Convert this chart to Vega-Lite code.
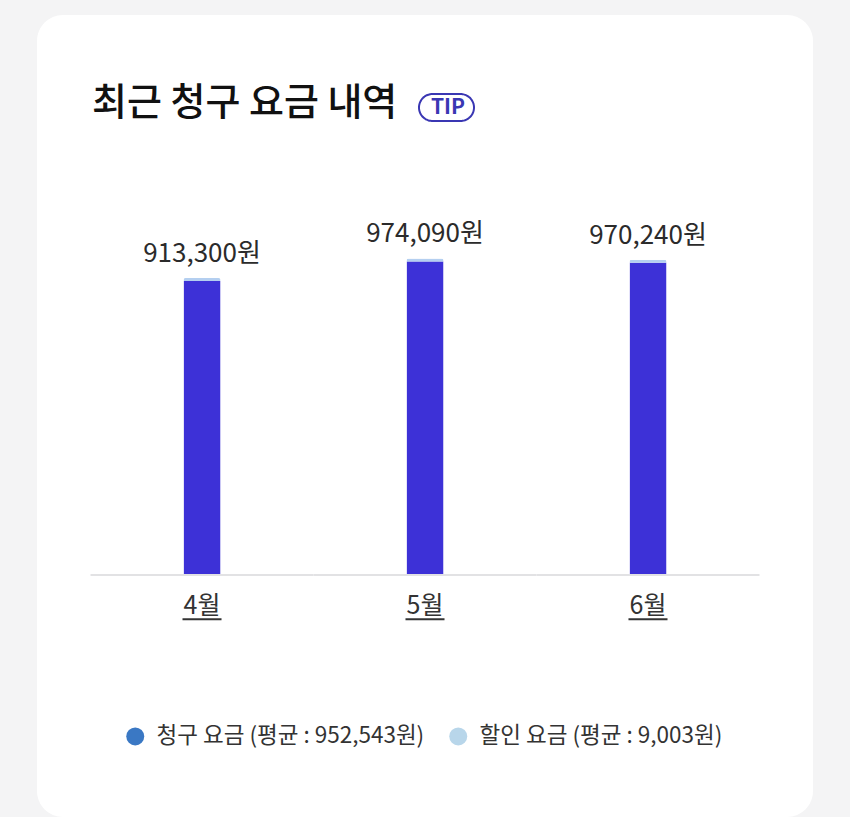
{
  "$schema": "https://vega.github.io/schema/vega-lite/v6.json",
  "autosize": {"type": "none"},
  "width": 776,
  "height": 802,
  "padding": {"left": 37, "top": 15, "right": 37, "bottom": 0},
  "background": "#f4f4f5",
  "title": {
    "text": "최근 청구 요금 내역",
    "orient": "top",
    "anchor": "start",
    "frame": "group",
    "dx": 55,
    "offset": -146,
    "baseline": "bottom",
    "font": "Noto Sans CJK KR",
    "fontSize": 38,
    "fontWeight": 500,
    "color": "#111111"
  },
  "data": {
    "values": [
      {"month": "4월", "type": "청구 요금", "amount": 913300},
      {"month": "4월", "type": "할인 요금", "amount": 9003},
      {"month": "5월", "type": "청구 요금", "amount": 974090},
      {"month": "5월", "type": "할인 요금", "amount": 9003},
      {"month": "6월", "type": "청구 요금", "amount": 970240},
      {"month": "6월", "type": "할인 요금", "amount": 9003}
    ]
  },
  "encoding": {
    "x": {
      "field": "month",
      "type": "nominal",
      "sort": ["4월", "5월", "6월"],
      "scale": {"paddingInner": 0, "paddingOuter": 0.24},
      "axis": {
        "orient": "bottom",
        "offset": -243,
        "domain": false,
        "ticks": false,
        "grid": false,
        "title": null,
        "labelAngle": 0,
        "labelFont": "Noto Sans CJK KR",
        "labelFontSize": 25,
        "labelColor": "#333333",
        "labelPadding": 19
      }
    }
  },
  "layer": [
    {
      "transform": [{"filter": "datum.type === '청구 요금'"}],
      "mark": {"type": "bar", "color": "#e2e2e4"},
      "encoding": {
        "y": {"datum": 0, "type": "quantitative", "scale": {"domain": [-757400, 1742400], "nice": false, "zero": false}, "axis": null},
        "y2": {"datum": -6000}
      }
    },
    {
      "mark": {"type": "bar", "width": {"band": 0.166}, "cornerRadiusTopLeft": 2, "cornerRadiusTopRight": 2},
      "encoding": {
        "y": {
          "field": "amount",
          "type": "quantitative",
          "stack": "zero",
          "axis": null
        },
        "color": {
          "field": "type",
          "type": "nominal",
          "scale": {"domain": ["청구 요금", "할인 요금"], "range": ["#3d31d7", "#b4cff0"]},
          "legend": null
        },
        "order": {"field": "type", "sort": "ascending"}
      }
    },
    {
      "transform": [{"filter": "datum.type === '청구 요금'"}],
      "mark": {
        "type": "text",
        "baseline": "alphabetic",
        "dy": -19,
        "font": "Noto Sans CJK KR",
        "fontSize": 26,
        "color": "#2b2b2b",
        "text": {"expr": "format(datum.amount, ',') + '원'"}
      },
      "encoding": {
        "y": {"field": "amount", "type": "quantitative"}
      }
    },
    {
      "transform": [{"filter": "datum.type === '청구 요금'"}],
      "mark": {"type": "bar", "width": {"band": 0.175}, "color": "#333333"},
      "encoding": {
        "y": {"datum": -138000, "type": "quantitative"},
        "y2": {"datum": -144000}
      }
    },
    {
      "mark": {"type": "bar", "width": {"band": 0.1}},
      "encoding": {
        "y": {"datum": -2000000, "type": "quantitative"},
        "y2": {"datum": -2000000},
        "color": {
          "field": "type",
          "type": "nominal",
          "scale": {"domain": ["청구 요금", "할인 요금"], "range": ["#3a78c4", "#b8d6ea"]},
          "legend": {
            "orient": "none",
            "legendX": 87,
            "legendY": 710,
            "direction": "horizontal",
            "title": null,
            "padding": 0,
            "symbolType": "circle",
            "symbolSize": 324,
            "symbolStrokeWidth": 0,
            "symbolOpacity": 1,
            "labelFont": "Noto Sans CJK KR",
            "labelFontSize": 22.5,
            "labelColor": "#333333",
            "labelOffset": 10,
            "labelLimit": 400,
            "columnPadding": 22,
            "labelExpr": "datum.value === '청구 요금' ? '청구 요금 (평균 : 952,543원)' : '할인 요금 (평균 : 9,003원)'"
          }
        }
      }
    },
    {
      "transform": [{"filter": "datum.type === '청구 요금'"}],
      "mark": {"type": "bar", "width": {"band": 0.1}, "fill": "transparent", "stroke": "#3a37b3", "strokeWidth": 2},
      "encoding": {
        "y": {"datum": -2000000, "type": "quantitative"},
        "y2": {"datum": -2000000},
        "strokeDash": {
          "datum": "TIP",
          "legend": {
            "orient": "none",
            "legendX": 381,
            "legendY": 64,
            "title": null,
            "padding": 0,
            "symbolType": "M -0.51 -0.49 L 0.51 -0.49 A 0.49 0.49 0 0 1 0.51 0.49 L -0.51 0.49 A 0.49 0.49 0 0 1 -0.51 -0.49 Z",
            "symbolSize": 3025,
            "symbolOpacity": 1,
            "symbolFillColor": "transparent",
            "symbolStrokeColor": "#3a37b3",
            "symbolStrokeWidth": 2,
            "labelOffset": -44,
            "labelFont": "Noto Sans CJK KR",
            "labelFontSize": 21,
            "labelFontWeight": "bold",
            "labelColor": "#3a37b3"
          }
        }
      }
    }
  ],
  "resolve": {"scale": {"color": "independent"}, "legend": {"color": "independent"}},
  "config": {
    "view": {"fill": "#ffffff", "stroke": null, "cornerRadius": 26},
    "font": "Noto Sans CJK KR"
  }
}
